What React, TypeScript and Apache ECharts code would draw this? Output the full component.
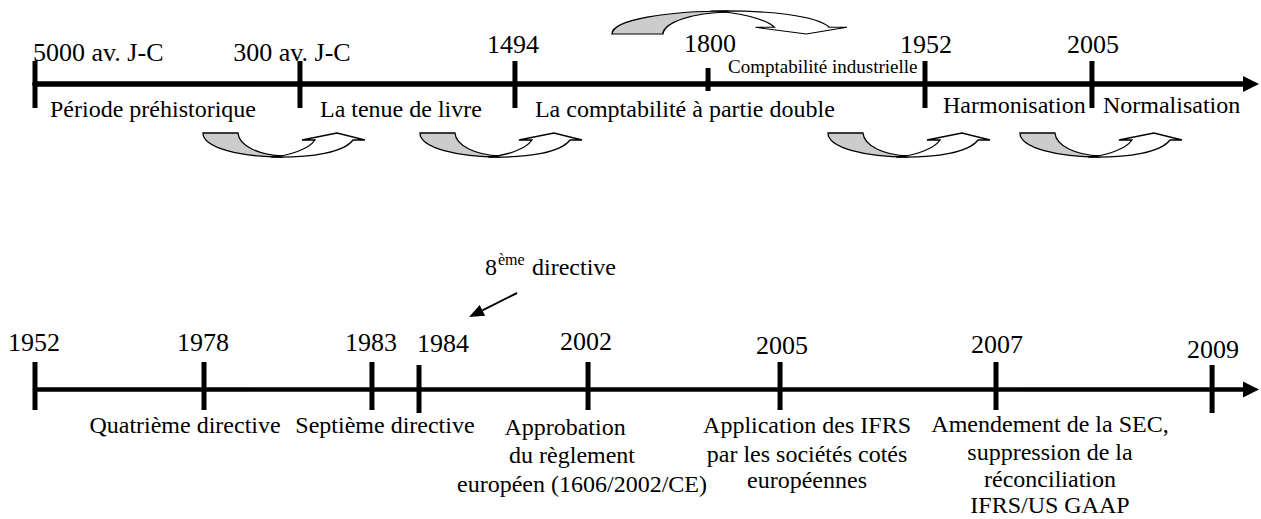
import React, { useEffect, useRef } from "react";
import * as echarts from "echarts";

// ---------- DATA ----------
// Upper timeline: milestones and the periods that start at them
const topYears = ["5000 av. J-C", "300 av. J-C", "1494", "1800", "1952", "2005"];
// schematic position of each milestone along the timeline (% of its length)
const topPositions = [0, 21.79, 39.47, 55.35, 73.19, 86.92];
const topPeriods = [
  "Période préhistorique",
  "La tenue de livre",
  "La comptabilité à partie double",
  "Comptabilité industrielle",
  "Harmonisation",
  "Normalisation",
];

// Lower timeline: milestones since 1952
const bottomYears = ["1952", "1978", "1983", "1984", "2002", "2005", "2007", "2009"];
const bottomPositions = [0, 13.9, 27.71, 31.58, 45.48, 61.27, 79.03, 96.8];
const bottomEvents: string[][] = [
  [],
  ["Quatrième directive"],
  ["Septième directive"],
  [],
  ["Approbation", "du règlement", "européen (1606/2002/CE)"],
  ["Application des IFRS", "par les sociétés cotés", "européennes"],
  ["Amendement de la SEC,", "suppression de la", "réconciliation", "IFRS/US GAAP"],
  [],
];
const annotationParts = ["8", "ème", "directive"];

// ---------- LAYOUT / STYLE ----------
const FONT = '"Liberation Serif", "Times New Roman", Times, serif';
const CENTRAL = 0.3375; // central-baseline offset (em) for Liberation Serif

const TOP_LAYOUT = [
  { tick: [-23, 24], yearDx: -2, yearAlign: "left", yearBase: -23, periodDx: 15, periodBase: 33, periodSize: 24 },
  { tick: [-23, 24], yearDx: -8, yearAlign: "center", yearBase: -23, periodDx: 20, periodBase: 33, periodSize: 24, arrow: { dx: -97, dy: 48, sx: 1, sy: 1 } },
  { tick: [-23, 24], yearDx: -2, yearAlign: "center", yearBase: -31, periodDx: 20, periodBase: 33, periodSize: 24, arrow: { dx: -95, dy: 48, sx: 1, sy: 1 } },
  { tick: [-16, 7], yearDx: 2, yearAlign: "center", yearBase: -32, periodDx: 20, periodBase: -11, periodSize: 19, arrow: { dx: -96, dy: -49, sx: 1.45, sy: -0.96 } },
  { tick: [-23, 24], yearDx: 1, yearAlign: "center", yearBase: -31, periodDx: 18, periodBase: 29, periodSize: 24, arrow: { dx: -97, dy: 48, sx: 1, sy: 1 } },
  { tick: [-23, 24], yearDx: 1, yearAlign: "center", yearBase: -31, periodDx: 11, periodBase: 29, periodSize: 24, arrow: { dx: -72, dy: 48, sx: 1, sy: 1 } },
];

const BOTTOM_LAYOUT = [
  { tick: [-27.5, 20.5], yearDx: -1, yearAlign: "center", yearBase: -38.5, lineDx: [], lineBase: [] },
  { tick: [-27.5, 20.5], yearDx: -1, yearAlign: "center", yearBase: -38.5, lineDx: [-19], lineBase: [43.5] },
  { tick: [-27.5, 20.5], yearDx: -1, yearAlign: "center", yearBase: -38.5, lineDx: [13], lineBase: [43.5] },
  { tick: [-24.5, 23.5], yearDx: -2, yearAlign: "left", yearBase: -37.5, lineDx: [], lineBase: [], annotation: true },
  { tick: [-27.5, 20.5], yearDx: -2, yearAlign: "center", yearBase: -39.5, lineDx: [-23, -16, -6], lineBase: [45.5, 73.5, 102.5] },
  { tick: [-27.5, 20.5], yearDx: 2, yearAlign: "center", yearBase: -35.5, lineDx: [27, 27, 27], lineBase: [43.5, 72.5, 98.5] },
  { tick: [-27.5, 20.5], yearDx: 1, yearAlign: "center", yearBase: -36.5, lineDx: [54, 54, 54, 54], lineBase: [42.5, 70.5, 97.5, 123.5] },
  { tick: [-24.5, 23.5], yearDx: 1, yearAlign: "center", yearBase: -31.5, lineDx: [], lineBase: [] },
];

// curved "transition" arrow, in local coordinates (about 162 x 25)
const ARROW_BACK = "M0,1 L35,1 C36,14 56,23 80,24 L80,25 C38,25 0,16 0,1 Z";
const ARROW_FRONT = "M68,25 C86,24 106,17 112,8 L99,8 L134,1 L162,8 L150,8 C141,20 110,26 68,25 Z";

function txt(x: number, baseline: number, text: string, size: number, align: string) {
  return {
    type: "text",
    x,
    y: baseline - CENTRAL * size,
    style: {
      text,
      fontSize: size,
      fontFamily: FONT,
      fill: "#000",
      align,
      verticalAlign: "middle",
    },
  };
}

function tickRect(x: number, y: number, t: number[], w: number) {
  return {
    type: "rect",
    shape: { x: x - w / 2, y: y + t[0], width: w, height: t[1] - t[0] },
    style: { fill: "#000" },
  };
}

function curvedArrow(x: number, y: number, sx: number, sy: number) {
  return {
    type: "group",
    x,
    y,
    scaleX: sx,
    scaleY: sy,
    children: [
      { type: "path", shape: { pathData: ARROW_BACK }, style: { fill: "#cccccc", stroke: "#000", lineWidth: 1.3, strokeNoScale: true } },
      { type: "path", shape: { pathData: ARROW_FRONT }, style: { fill: "#ffffff", stroke: "#000", lineWidth: 1.3, strokeNoScale: true } },
    ],
  };
}

function renderTop(params: any, api: any) {
  const i = params.dataIndex;
  const [x, y] = api.coord([api.value(0), 0]);
  const L: any = TOP_LAYOUT[i];
  const children: any[] = [];
  if (L.arrow) children.push(curvedArrow(x + L.arrow.dx, y + L.arrow.dy, L.arrow.sx, L.arrow.sy));
  children.push(tickRect(x, y, L.tick, 5));
  children.push(txt(x + L.yearDx, y + L.yearBase, topYears[i], 26, L.yearAlign));
  children.push(txt(x + L.periodDx, y + L.periodBase, topPeriods[i], L.periodSize, "left"));
  return { type: "group", children };
}

function renderBottom(params: any, api: any) {
  const i = params.dataIndex;
  const [x, y] = api.coord([api.value(0), 0]);
  const L: any = BOTTOM_LAYOUT[i];
  const children: any[] = [];
  children.push(tickRect(x, y, L.tick, 5));
  children.push(txt(x + L.yearDx, y + L.yearBase, bottomYears[i], 26, L.yearAlign));
  bottomEvents[i].forEach((line, k) => {
    children.push(txt(x + L.lineDx[k], y + L.lineBase[k], line, 24, "center"));
  });
  if (L.annotation) {
    children.push(txt(x + 66, y - 114.5, annotationParts[0], 24, "left"));
    children.push(txt(x + 79, y - 124.5, annotationParts[1], 16, "left"));
    children.push(txt(x + 113, y - 114.5, annotationParts[2], 24, "left"));
    children.push({
      type: "line",
      shape: { x1: x + 98, y1: y - 96.5, x2: x + 63.4, y2: y - 79.2 },
      style: { stroke: "#000", lineWidth: 2 },
    });
    children.push({
      type: "polygon",
      shape: { points: [[x + 50, y - 72.5], [x + 66.1, y - 73.8], [x + 60.7, y - 84.6]] },
      style: { fill: "#000" },
    });
  }
  return { type: "group", children };
}

export default function App() {
  const ref = useRef<HTMLDivElement>(null);
  useEffect(() => {
    if (!ref.current) return;
    const chart = echarts.init(ref.current, null, { renderer: "svg" });
    const axisX = (gridIndex: number, width: number) => ({
      type: "value",
      gridIndex,
      min: 0,
      max: 100,
      position: "bottom",
      axisLine: {
        show: true,
        onZero: false,
        symbol: ["none", "triangle"],
        symbolSize: [16, 16],
        lineStyle: { color: "#000", width },
      },
      axisTick: { show: false },
      axisLabel: { show: false },
      splitLine: { show: false },
    });
    const axisY = (gridIndex: number) => ({
      type: "value",
      gridIndex,
      min: 0,
      max: 1,
      show: false,
      splitLine: { show: false },
    });
    chart.setOption({
      animation: false,
      backgroundColor: "#ffffff",
      grid: [
        { left: 35, right: 10, top: 34, height: 50 },
        { left: 35, right: 10, top: 339.5, height: 50 },
      ],
      xAxis: [axisX(0, 5.5), axisX(1, 4.5)],
      yAxis: [axisY(0), axisY(1)],
      series: [
        {
          type: "custom",
          coordinateSystem: "cartesian2d",
          xAxisIndex: 0,
          yAxisIndex: 0,
          clip: false,
          silent: true,
          data: topPositions.map((p) => [p, 0]),
          renderItem: renderTop,
        },
        {
          type: "custom",
          coordinateSystem: "cartesian2d",
          xAxisIndex: 1,
          yAxisIndex: 1,
          clip: false,
          silent: true,
          data: bottomPositions.map((p) => [p, 0]),
          renderItem: renderBottom,
        },
      ],
    });
    return () => chart.dispose();
  }, []);
  return (
    <div
      ref={ref}
      style={{ position: "fixed", left: 0, top: 0, width: 1261, height: 519, background: "#fff" }}
    />
  );
}
